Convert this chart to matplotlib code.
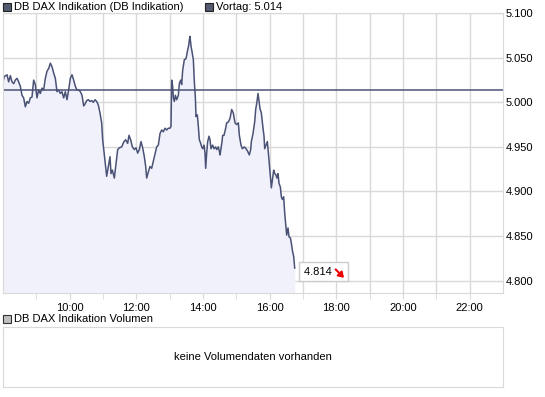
import matplotlib.pyplot as plt
import matplotlib.ticker as mticker
from matplotlib.patches import Rectangle
from matplotlib.transforms import offset_copy

plt.rcParams['font.family'] = ['Liberation Sans', 'DejaVu Sans']

# Zeit in Stunden, Kurs in Punkten
hours = [8.00, 8.04, 8.12, 8.17, 8.22, 8.27, 8.32, 8.37, 8.42, 8.47, 8.52, 8.57, 8.62, 8.67, 8.72,
         8.77, 8.82, 8.87, 8.92, 8.97, 9.02, 9.07, 9.12, 9.17, 9.22, 9.27, 9.32, 9.37, 9.42, 9.47,
         9.52, 9.57, 9.62, 9.67, 9.72, 9.77, 9.82, 9.87, 9.92, 9.97, 10.02, 10.07, 10.12, 10.17, 10.22,
         10.27, 10.32, 10.37, 10.42, 10.46, 10.51, 10.56, 10.61, 10.66, 10.71, 10.76, 10.81, 10.86, 10.91,
         10.96, 10.99, 11.04, 11.11, 11.16, 11.21, 11.24, 11.28, 11.34, 11.38, 11.44, 11.49, 11.56, 11.63,
         11.68, 11.74, 11.78, 11.83, 11.88, 11.94, 11.99, 12.04, 12.09, 12.14, 12.19, 12.24, 12.28, 12.31,
         12.36, 12.41, 12.46, 12.51, 12.56, 12.61, 12.66, 12.71, 12.76, 12.81, 12.86, 12.91, 12.96, 13.01,
         13.04, 13.06, 13.09, 13.11, 13.14, 13.17, 13.21, 13.26, 13.29, 13.33, 13.36, 13.39, 13.44, 13.49,
         13.53, 13.57, 13.59, 13.61, 13.64, 13.67, 13.71, 13.74, 13.77, 13.79, 13.83, 13.86, 13.89, 13.93,
         13.96, 13.99, 14.03, 14.06, 14.08, 14.11, 14.14, 14.18, 14.21, 14.24, 14.29, 14.33, 14.38, 14.41,
         14.46, 14.49, 14.51, 14.54, 14.57, 14.59, 14.63, 14.68, 14.71, 14.76, 14.81, 14.86, 14.91, 14.96,
         15.01, 15.06, 15.09, 15.14, 15.18, 15.24, 15.29, 15.34, 15.39, 15.43, 15.45, 15.50, 15.55, 15.58,
         15.62, 15.65, 15.68, 15.71, 15.75, 15.80, 15.83, 15.85, 15.89, 15.93, 15.95, 15.98, 16.02, 16.05,
         16.08, 16.12, 16.15, 16.18, 16.22, 16.25, 16.28, 16.32, 16.35, 16.38, 16.42, 16.45, 16.48, 16.51,
         16.55, 16.58, 16.62, 16.65, 16.68, 16.72, 16.75]
prices = [5023, 5029, 5031, 5023, 5030, 5023, 5021, 5025, 5027, 5023, 5018, 5008, 5005, 4995, 5001,
          4999, 5005, 5006, 5025, 5020, 5005, 5014, 5010, 5016, 5014, 5027, 5035, 5038, 5044, 5040,
          5033, 5027, 5012, 5014, 5010, 5012, 5005, 5012, 5003, 5014, 5027, 5031, 5025, 5018, 5014,
          5014, 5012, 5008, 4996, 4998, 5002, 5003, 5001, 5002, 5000, 5003, 5001, 4997, 4988,
          4977, 4958, 4941, 4917, 4928, 4939, 4920, 4924, 4915, 4928, 4947, 4949, 4950, 4956,
          4958, 4954, 4963, 4958, 4950, 4947, 4949, 4943, 4947, 4956, 4949, 4939, 4928, 4915,
          4922, 4928, 4926, 4934, 4942, 4950, 4952, 4965, 4969, 4967, 4971, 4969, 4971, 4971,
          4973, 5025, 5018, 5005, 5001, 5008, 5003, 5008, 5021, 5025, 5020, 5036, 5048, 5049,
          5057, 5064, 5070, 5074, 5063, 5057, 5048, 5023, 5006, 4984, 4986, 4973, 4958, 4954,
          4950, 4948, 4952, 4943, 4926, 4943, 4956, 4962, 4958, 4948, 4952, 4948, 4950, 4947,
          4950, 4945, 4941, 4948, 4956, 4963, 4963, 4971, 4977, 4978, 4982, 4992, 4988, 4977,
          4975, 4977, 4963, 4952, 4948, 4950, 4948, 4945, 4941, 4947, 4956, 4965, 4978, 4992,
          5001, 5010, 5001, 4993, 4988, 4971, 4962, 4948, 4952, 4956, 4948, 4935, 4917, 4904,
          4913, 4924, 4920, 4919, 4915, 4920, 4909, 4905, 4894, 4891, 4894, 4876, 4864, 4851,
          4859, 4849, 4848, 4842, 4834, 4827, 4814]
prev_close = 5014
last_price = 4814
y_ticks = [4800, 4850, 4900, 4950, 5000, 5050, 5100]
x_labels = [10, 12, 14, 16, 18, 20, 22]

line_col = '#4a5276'
grid_col = '#d9d9d9'

def fmt_de(v, pos=None):
    return '{:,.0f}'.format(v).replace(',', '.')

fig = plt.figure(figsize=(5.45, 3.97), dpi=100)
ax = fig.add_axes([0.0055, 0.262, 0.9175, 0.7045])

ax.fill_between(hours, prices, 4786, color='#f1f1fc', lw=0)
ax.plot(hours, prices, color=line_col, lw=1.1)
ax.axhline(prev_close, color=line_col, lw=1.1)

ax.set_xlim(8, 23)
ax.set_ylim(4786, 5100)
ax.set_xticks(x_labels)
ax.set_xticklabels(['%d:00' % h for h in x_labels])
ax.set_xticks(range(9, 23), minor=True)
ax.set_yticks(y_ticks)
ax.yaxis.set_major_formatter(mticker.FuncFormatter(fmt_de))
ax.yaxis.tick_right()
ax.grid(True, which='both', color=grid_col, lw=1)
ax.set_axisbelow(True)
ax.tick_params(axis='x', which='both', length=4, color=grid_col, labelsize=8, pad=3)
ax.tick_params(axis='y', length=0, labelsize=8, pad=2)
for s in ax.spines.values():
    s.set_color(grid_col)

# Schlusskurs-Label mit Pfeil
ax.annotate(fmt_de(last_price) + '    ', xy=(hours[-1], prices[-1]), xytext=(6.5, -2.5),
            textcoords='offset points', ha='left', va='center', fontsize=8,
            bbox=dict(boxstyle='square,pad=0.4', fc='white', ec='#cccccc', lw=1))
tip = offset_copy(ax.transData, fig=fig, x=35.5, y=-7, units='points')
ax.annotate('', xy=(hours[-1], prices[-1]), xycoords=tip, xytext=(-6, 6),
            textcoords='offset points',
            arrowprops=dict(arrowstyle='-|>,head_length=0.3,head_width=0.2', color='#ee0000',
                            lw=1.5, shrinkA=0, shrinkB=0))

# Legende oben
fig.patches.append(Rectangle((3 / 545, 1 - 11 / 397), 8 / 545, 8 / 397, transform=fig.transFigure,
                             fc='#545a70', ec='#222222', lw=0.8))
fig.text(14 / 545, 1 - 7.5 / 397, 'DB DAX Indikation (DB Indikation)', fontsize=8, va='center')
fig.patches.append(Rectangle((205 / 545, 1 - 11 / 397), 8 / 545, 8 / 397, transform=fig.transFigure,
                             fc='#545a70', ec='#222222', lw=0.8))
fig.text(216 / 545, 1 - 7.5 / 397, 'Vortag: ' + fmt_de(prev_close), fontsize=8, va='center')

# Volumen-Panel
fig.patches.append(Rectangle((3 / 545, 1 - 323 / 397), 8 / 545, 8 / 397, transform=fig.transFigure,
                             fc='#c0c0c0', ec='#333333', lw=0.8))
fig.text(14 / 545, 1 - 319.5 / 397, 'DB DAX Indikation Volumen', fontsize=8, va='center')
vax = fig.add_axes([0.0055, 0.025, 0.9175, 0.151])
vax.set_xticks([])
vax.set_yticks([])
for s in vax.spines.values():
    s.set_color(grid_col)
vax.text(0.5, 0.5, 'keine Volumendaten vorhanden', ha='center', va='center', fontsize=8,
         transform=vax.transAxes)

fig.savefig('out.png', dpi=100)
